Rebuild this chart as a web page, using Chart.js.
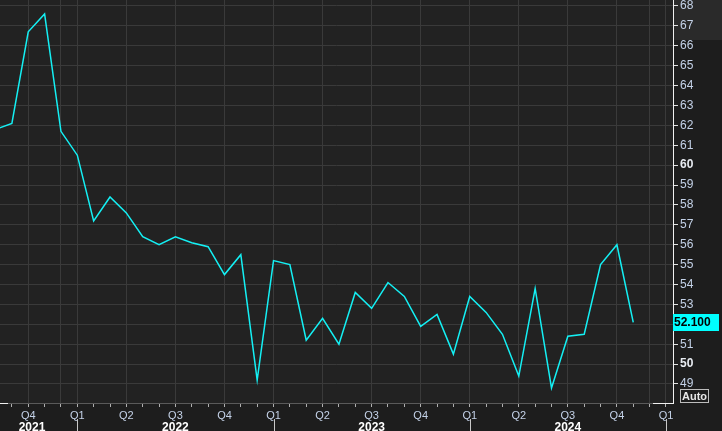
<!DOCTYPE html>
<html>
<head>
<meta charset="utf-8">
<script src="https://cdn.jsdelivr.net/npm/chart.js@4/dist/chart.umd.min.js"></script>
<style>
  html, body { margin: 0; padding: 0; background: #1d1d1d; }
  canvas { display: block; }
</style>
</head>
<body>
<canvas id="chart" width="722" height="431"></canvas>
<script>
// Monthly readings, Aug 2021 .. Nov 2024
const months = [
    "2021-08", "2021-09", "2021-10", "2021-11", "2021-12",
    "2022-01", "2022-02", "2022-03", "2022-04", "2022-05", "2022-06",
    "2022-07", "2022-08", "2022-09", "2022-10", "2022-11", "2022-12",
    "2023-01", "2023-02", "2023-03", "2023-04", "2023-05", "2023-06",
    "2023-07", "2023-08", "2023-09", "2023-10", "2023-11", "2023-12",
    "2024-01", "2024-02", "2024-03", "2024-04", "2024-05", "2024-06",
    "2024-07", "2024-08", "2024-09", "2024-10", "2024-11"
];
const values = [
    61.8, 62.1, 66.7, 67.6, 61.7,
    60.5, 57.2, 58.4, 57.6, 56.4, 56.0,
    56.4, 56.1, 55.9, 54.5, 55.5, 49.2,
    55.2, 55.0, 51.2, 52.3, 51.0, 53.6,
    52.8, 54.1, 53.4, 51.9, 52.5, 50.5,
    53.4, 52.6, 51.5, 49.4, 53.8, 48.8,
    51.4, 51.5, 55.0, 56.0, 52.1
];
const quarterLabels = ["Q1", "Q2", "Q3", "Q4"];
const years = [2021, 2022, 2023, 2024];
const yTicks = [49, 50, 51, 52, 53, 54, 55, 56, 57, 58, 59, 60, 61, 62, 63, 64, 65, 66, 67, 68];
const extraGridMonths = ["2021-12", "2024-12"];
const lastValueText = "52.100";

// month string -> months since Jan 2022
const monthIndex = (m) => {
    const [y, mo] = m.split("-").map(Number);
    return (y - 2022) * 12 + (mo - 1);
};
const points = months.map((m, i) => ({ x: monthIndex(m), y: values[i] }));
const extraGrid = extraGridMonths.map(monthIndex);

const FONT = "'Liberation Sans', Arial, sans-serif";

const decorPlugin = {
    id: "decor",
    beforeDraw(chart) {
        const { ctx, chartArea: a } = chart;
        ctx.save();
        ctx.fillStyle = "#222222";
        ctx.fillRect(a.left, a.top, a.right - a.left, a.bottom - a.top);
        ctx.fillStyle = "#2a2a2a";
        ctx.fillRect(a.right, 0, chart.width - a.right, 40);
        ctx.restore();
    },
    afterDraw(chart) {
        const { ctx, chartArea: a, scales } = chart;
        const xs = scales.x, ys = scales.y;
        ctx.save();

        // white ends of the bottom axis
        ctx.strokeStyle = "#f0f0f0";
        ctx.lineWidth = 1;
        ctx.beginPath();
        ctx.moveTo(a.left, a.bottom + 0.5); ctx.lineTo(a.left + 8, a.bottom + 0.5);
        ctx.moveTo(a.right - 20, a.bottom + 0.5); ctx.lineTo(a.right, a.bottom + 0.5);
        ctx.stroke();

        // year separators and year labels
        ctx.strokeStyle = "#c8c8c8";
        ctx.beginPath();
        years.concat([years[years.length - 1] + 1]).forEach((yr) => {
            const px = Math.round(xs.getPixelForValue((yr - 2022) * 12)) + 0.5;
            if (px > a.left && px < a.right) {
                ctx.moveTo(px, 419); ctx.lineTo(px, chart.height);
            }
        });
        ctx.stroke();

        ctx.font = "bold 12px " + FONT;
        ctx.fillStyle = "#ffffff";
        ctx.textAlign = "center";
        ctx.textBaseline = "alphabetic";
        years.forEach((yr) => {
            let px = xs.getPixelForValue((yr - 2022) * 12 + 6);
            px = Math.max(px, a.left + 32);
            ctx.fillText(String(yr), px, 431);
        });

        // last value tag
        const ly = ys.getPixelForValue(values[values.length - 1]);
        ctx.fillStyle = "#00ffff";
        ctx.fillRect(a.right, Math.round(ly) - 8, 46, 17);
        ctx.fillStyle = "#000000";
        ctx.textAlign = "left";
        ctx.textBaseline = "middle";
        ctx.font = "bold 12px " + FONT;
        ctx.fillText(lastValueText, a.right + 1, Math.round(ly) + 1);

        // Auto box
        ctx.strokeStyle = "#bdbdbd";
        ctx.strokeRect(680.5, 389.5, 28, 13);
        ctx.fillStyle = "#e6e6e6";
        ctx.font = "bold 11px " + FONT;
        ctx.textAlign = "center";
        ctx.fillText("Auto", 694.5, 396.5);
        ctx.restore();
    }
};

new Chart(document.getElementById("chart"), {
    type: "line",
    data: {
        datasets: [{
            data: points,
            borderColor: "#14f0f4",
            borderWidth: 1.5,
            pointRadius: 0,
            tension: 0,
            fill: false,
        }],
    },
    options: {
        responsive: false,
        animation: false,
        devicePixelRatio: 1,
        layout: { padding: 0 },
        plugins: { legend: { display: false }, tooltip: { enabled: false } },
        scales: {
            x: {
                type: "linear",
                min: -4.727,
                max: 36.43,
                afterBuildTicks: (s) => {
                    const t = [];
                    for (let m = -4; m <= 36; m++) t.push({ value: m });
                    s.ticks = t;
                },
                afterFit: (s) => {
                    s.height = 28;
                    s.paddingLeft = 0;
                    s.paddingRight = 0;
                },
                grid: {
                    color: (c) => {
                        const v = c.tick && c.tick.value;
                        if (v === undefined) return "transparent";
                        const mod = ((v % 3) + 3) % 3;
                        return (mod === 0 || extraGrid.includes(v)) ? "#3a3a3a" : "transparent";
                    },
                    tickColor: "#b0b0b0",
                    tickLength: 4,
                    lineWidth: 1,
                },
                border: { display: true, color: "#5a5a5a" },
                ticks: {
                    autoSkip: false,
                    maxRotation: 0,
                    padding: 2,
                    color: "#c4d2e8",
                    font: { family: FONT, size: 11 },
                    callback: (v) => {
                        const mod = ((v % 12) + 12) % 12;
                        return mod % 3 === 0 ? quarterLabels[mod / 3] : "";
                    },
                },
            },
            y: {
                position: "right",
                min: 48.045,
                max: 68.30,
                afterBuildTicks: (s) => { s.ticks = yTicks.map((v) => ({ value: v })); },
                afterFit: (s) => {
                    s.width = 49;
                    s.paddingTop = 0;
                    s.paddingBottom = 0;
                },
                grid: {
                    color: "#3a3a3a",
                    tickColor: "#e0e0e0",
                    tickLength: 5,
                    lineWidth: 1,
                },
                border: { display: true, color: "#f0f0f0", width: 1 },
                ticks: {
                    padding: 2,
                    color: (c) => (c.tick && c.tick.value % 10 === 0) ? "#e8ecf2" : "#c4d2e8",
                    font: (c) => ({
                        family: FONT,
                        size: 12,
                        weight: (c.tick && c.tick.value % 10 === 0) ? "bold" : "normal",
                    }),
                },
            },
        },
    },
    plugins: [decorPlugin],
});
</script>
</body>
</html>
